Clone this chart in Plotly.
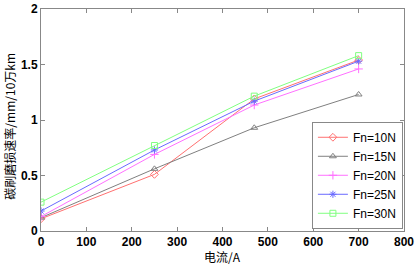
import plotly.graph_objects as go

current = [0, 250, 470, 700]
fn10 = [0.11, 0.51, 1.19, 1.54]
fn15 = [0.12, 0.56, 0.93, 1.23]
fn20 = [0.13, 0.69, 1.135, 1.46]
fn25 = [0.18, 0.73, 1.17, 1.53]
fn30 = [0.26, 0.77, 1.215, 1.58]
names = ["Fn=10N", "Fn=15N", "Fn=20N", "Fn=25N", "Fn=30N"]
x_ticks = [0, 100, 200, 300, 400, 500, 600, 700, 800]
y_ticks = [0, 0.5, 1, 1.5, 2]
y_tick_text = ["0", "0.5", "1", "1.5", "2"]
x_title = "电流/A"
y_title = "碳刷磨损速率/mm/10万km"

series = [fn10, fn15, fn20, fn25, fn30]
colors = ["#ff7070", "#808080", "#ff70ff", "#6a6aff", "#80ff80"]
symbols = ["diamond-open", "triangle-up-open", "cross-thin-open", "asterisk-open", "square-open"]

fig = go.Figure()
for name, ys, c, s in zip(names, series, colors, symbols):
    fig.add_trace(go.Scatter(
        x=current, y=ys, name=name, mode="lines+markers",
        line=dict(color=c, width=1),
        marker=dict(symbol=s, size=6, color=c, line=dict(color=c, width=1)),
    ))

axis_common = dict(
    showgrid=False, zeroline=False, showline=True, linecolor="#888888", linewidth=1,
    mirror="ticks", ticks="inside", ticklen=4, tickcolor="#888888", automargin=False,
    tickfont=dict(family="Liberation Sans, Arial", size=12, color="black", weight="bold"),
)
fig.update_layout(
    width=419, height=264,
    margin=dict(l=41, r=15, t=9, b=33),
    paper_bgcolor="white", plot_bgcolor="white",
    xaxis=dict(range=[0, 800], tickvals=x_ticks, **axis_common),
    yaxis=dict(range=[0, 2], tickvals=y_ticks, ticktext=y_tick_text, **axis_common),
    legend=dict(x=0.997, y=0.01, xanchor="right", yanchor="bottom",
                bordercolor="#888888", borderwidth=1, bgcolor="white",
                font=dict(family="Liberation Sans, Arial", size=12, color="black"),
                itemwidth=30, tracegroupgap=0),
    showlegend=True,
    annotations=[
        dict(text=x_title, xref="paper", yref="paper", x=0.5, y=0,
             xanchor="center", yanchor="top", yshift=-15, showarrow=False,
             font=dict(family="Noto Sans CJK SC", size=12, color="black")),
        dict(text=y_title, xref="paper", yref="paper", x=0, y=0.47,
             xanchor="center", yanchor="middle", xshift=-31, textangle=-90, showarrow=False,
             font=dict(family="Noto Sans CJK SC", size=12, color="black")),
    ],
)
# remove the default 8px page margin so the figure sits at the window's corner
fig.write_html("out.html", config={"displayModeBar": False},
               post_script="document.body.style.margin='0';")
